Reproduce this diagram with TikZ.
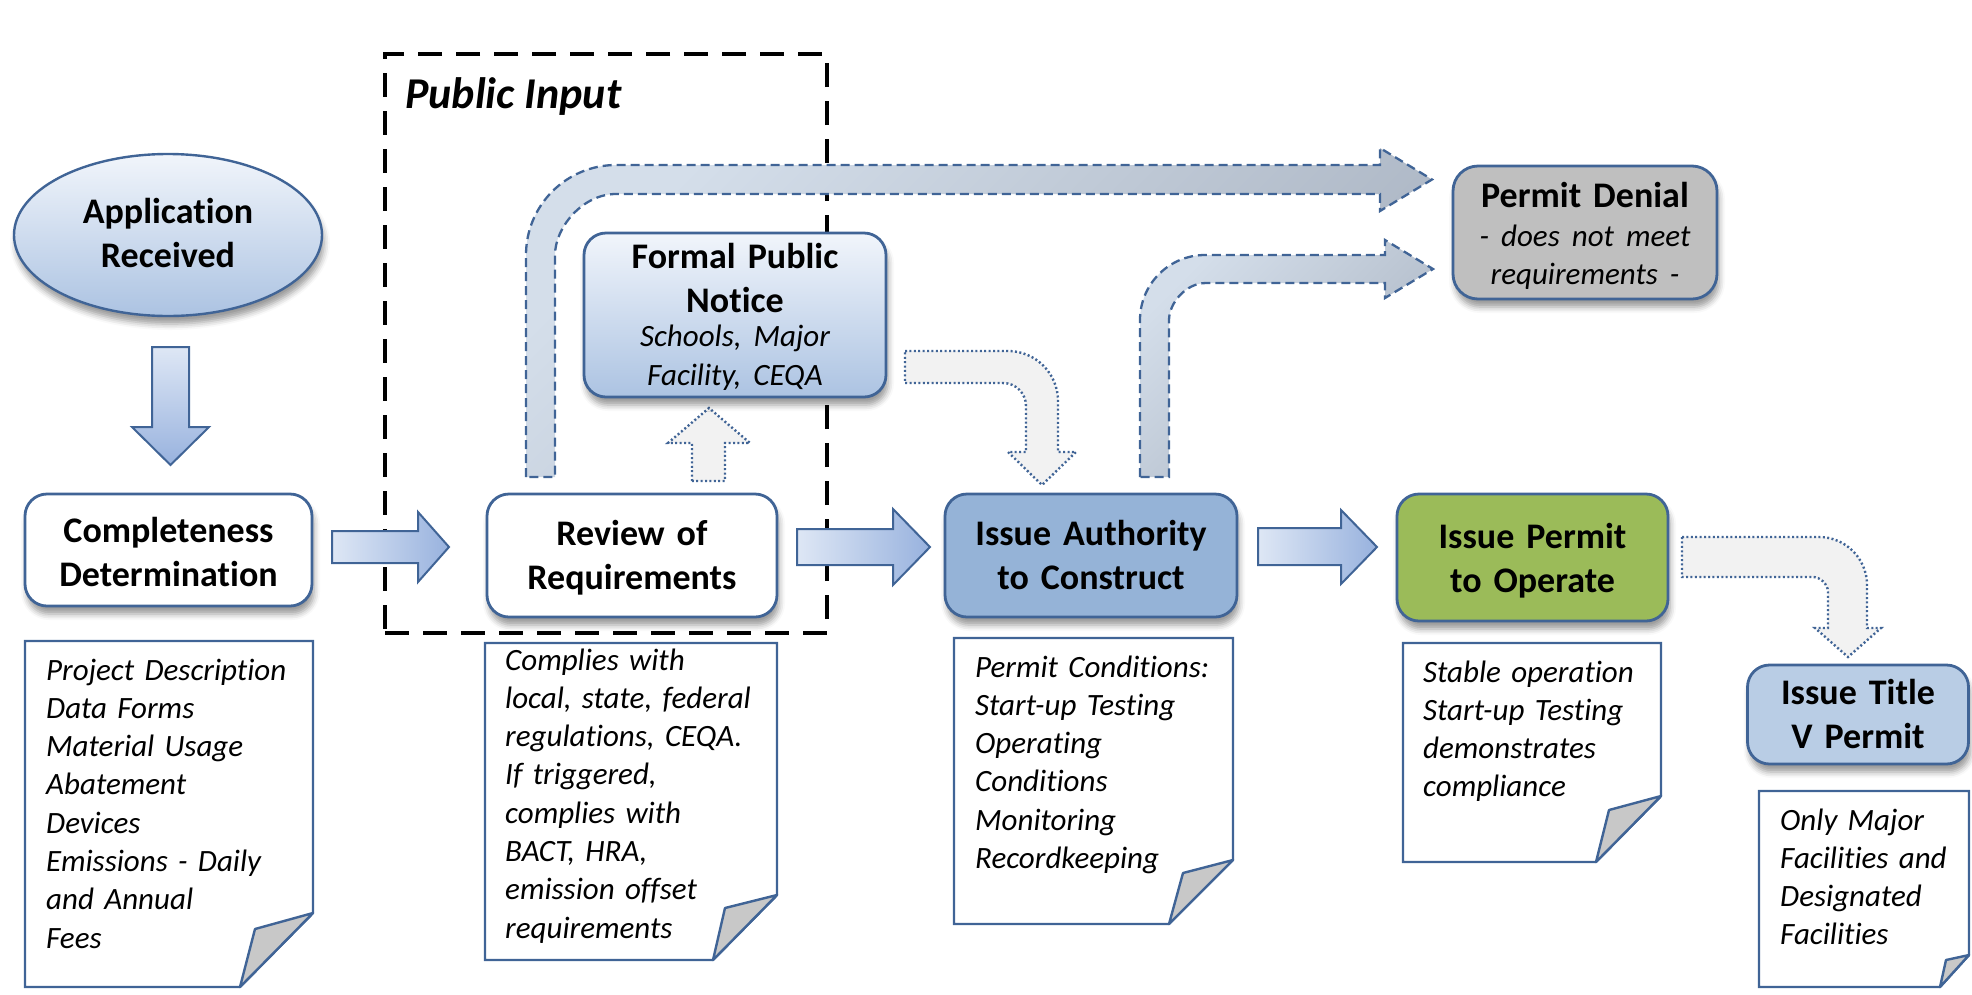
\documentclass[tikz,border=0pt]{standalone}
\usepackage{fontspec}
\setmainfont{Carlito}[Ligatures={NoCommon}]
\usetikzlibrary{shapes.geometric,shadows.blur}
\definecolor{bord}{RGB}{64,100,150}
\definecolor{arrL}{RGB}{222,231,245}
\definecolor{arrR}{RGB}{152,178,222}
\definecolor{dashL}{RGB}{212,222,234}
\definecolor{dashR}{RGB}{170,180,194}
\definecolor{dotfill}{RGB}{242,242,242}
\definecolor{foldg}{RGB}{200,200,200}
\definecolor{iacfill}{RGB}{149,179,215}
\definecolor{ipofill}{RGB}{155,187,89}
\definecolor{tvfill}{RGB}{185,205,229}
\definecolor{denfill}{RGB}{191,191,191}
\definecolor{ellT}{RGB}{241,245,251}
\definecolor{ellB}{RGB}{172,195,226}
\begin{document}
\begin{tikzpicture}[x=1pt,y=-1pt,
  shad/.style={blur shadow={shadow xshift=2pt, shadow yshift=-8pt, shadow blur radius=6pt}},
  boxshape/.style={draw=bord, line width=2.8pt, rounded corners=22pt, inner sep=0pt, shad},
  boxtext/.style={anchor=base, inner sep=0pt, text width=300pt, align=center, font=\bfseries\fontsize{36}{44.5}\selectfont},
  notepage/.style={draw=bord, line width=2.4pt, fill=white, line join=miter},
  notefold/.style={draw=bord, line width=2.4pt, fill=foldg, line join=round},
  notetext/.style={anchor=base west, inner sep=0pt, text width=290pt, align=left, font=\itshape\fontsize{31}{38.3}\selectfont},
  blockarrow/.style={draw=bord, line width=2pt, line join=miter},
  dotarrow/.style={draw=bord, line width=2.4pt, fill=dotfill, dash pattern=on 2pt off 2.4pt},
  dasharrow/.style={draw=bord, line width=2.3pt, dash pattern=on 9pt off 5pt, top color=dashL, bottom color=dashR, shading angle=45},
]
\useasboundingbox (0,0) rectangle (1972,994);

% Public input dashed region
\node[draw=black, line width=3.5pt, dash pattern=on 24pt off 14pt, minimum width=442pt, minimum height=579pt, inner sep=0pt] (pubbox) at (606,343.5) {};
\node[anchor=base west, inner sep=0pt, font=\bfseries\itshape\fontsize{44}{50}\selectfont] (pubtitle) at (405,108) {Public Input};

% big dashed arrows to Permit Denial
\path[dasharrow] (526,477) -- (526,255) .. controls (526,205.3) and (566.3,165) .. (616,165) -- (1380,165) -- (1380,148) -- (1432,179.5) -- (1380,211) -- (1380,194) -- (616,194) .. controls (582.3,194) and (555,227.7) .. (555,255) -- (555,477) -- cycle;
\path[dasharrow] (1140,477) -- (1140,320) .. controls (1140,284.1) and (1169.1,255) .. (1205,255) -- (1385,255) -- (1385,240) -- (1433,269) -- (1385,298) -- (1385,283) -- (1206,283) .. controls (1185.6,283) and (1169,303.4) .. (1169,320) -- (1169,477) -- cycle;

% dotted arrows
\path[dotarrow] (905,351) -- (1008,351) .. controls (1035.6,351) and (1058,373.4) .. (1058,401) -- (1058,452) -- (1076,452) -- (1042,485) -- (1008,452) -- (1026,452) -- (1026,406) .. controls (1026,393.3) and (1015.7,383) .. (1003,383) -- (905,383) -- cycle;
\path[dotarrow] (1682,537) -- (1819,537) .. controls (1845.5,537) and (1867,558.5) .. (1867,585) -- (1867,628) -- (1881,628) -- (1848,657) -- (1815,628) -- (1828,628) -- (1828,592) .. controls (1828,583.7) and (1819.7,577) .. (1813,577) -- (1682,577) -- cycle;
\path[dotarrow] (692,481) -- (692,443) -- (668,443) -- (709,408) -- (750,443) -- (725,443) -- (725,481) -- cycle;

% block arrows
\path[blockarrow, top color=arrL, bottom color=arrR] (152,347) -- (189,347) -- (189,427) -- (209,427) -- (170.5,465) -- (132,427) -- (152,427) -- cycle;
\path[blockarrow, left color=arrL, right color=arrR] (332,531) -- (418,531) -- (418,512) -- (449,547) -- (418,582) -- (418,563) -- (332,563) -- cycle;
\path[blockarrow, left color=arrL, right color=arrR] (797,529) -- (893,529) -- (893,509) -- (930,547) -- (893,585) -- (893,565) -- (797,565) -- cycle;
\path[blockarrow, left color=arrL, right color=arrR] (1258,528) -- (1341,528) -- (1341,510) -- (1377,547) -- (1341,584) -- (1341,565) -- (1258,565) -- cycle;

% Application received
\node[ellipse, draw=bord, line width=2.4pt, top color=ellT, bottom color=ellB, minimum width=308pt, minimum height=162pt, inner sep=0pt, shad] (app) at (168,235) {};
\node[boxtext] (appT) at (168,223) {Application\\Received};

% main boxes
\node[boxshape, fill=white, minimum width=287pt, minimum height=112pt] (comp) at (168.5,550) {};
\node[boxtext] (compT) at (168.5,542) {Completeness\\Determination};

\node[boxshape, fill=white, minimum width=290pt, minimum height=123pt] (rev) at (632,555.5) {};
\node[boxtext] (revT) at (632,545) {Review of\\Requirements};

\node[boxshape, top color=ellT, bottom color=ellB, minimum width=302pt, minimum height=164pt] (fpn) at (735,315) {};
\node[boxtext] (fpnT) at (735,268) {Formal Public\\Notice\\[-4pt] {\mdseries\itshape\fontsize{31}{38}\selectfont Schools, Major\\[-6pt] Facility, CEQA}};

\node[boxshape, fill=iacfill, minimum width=292pt, minimum height=123pt] (iac) at (1091,555.5) {};
\node[boxtext] (iacT) at (1091,545) {Issue Authority\\to Construct};

\node[boxshape, fill=ipofill, minimum width=271pt, minimum height=127pt] (ipo) at (1532.5,557.5) {};
\node[boxtext] (ipoT) at (1532.5,548) {Issue Permit\\to Operate};

\node[boxshape, fill=tvfill, minimum width=221pt, minimum height=99pt] (tv) at (1858,714.5) {};
\node[boxtext] (tvT) at (1858,704) {Issue Title\\V Permit};

\node[boxshape, fill=denfill, rounded corners=25pt, minimum width=264pt, minimum height=133pt] (den) at (1585,232.5) {};
\node[boxtext] (denT) at (1585,207) {Permit Denial\\[1pt] {\mdseries\itshape\fontsize{31}{38}\selectfont - does not meet\\[-6pt] requirements -}};

% notes
\path[notepage] (25,641) -- (313,641) -- (313,913) -- (240,987) -- (25,987) -- cycle;
\path[notefold] (313,913) -- (255,929) -- (240,987) -- cycle;
\node[notetext] (n1) at (46,680) {Project Description\\Data Forms\\Material Usage\\Abatement\\Devices\\Emissions - Daily\\and Annual\\Fees};

\path[notepage] (485,643) -- (777,643) -- (777,895) -- (713,960) -- (485,960) -- cycle;
\path[notefold] (777,895) -- (725,908) -- (713,960) -- cycle;
\node[notetext] (n2) at (505,670) {Complies with\\local, state, federal\\regulations, CEQA.\\If triggered,\\complies with\\BACT, HRA,\\emission offset\\requirements};

\path[notepage] (954,638) -- (1233,638) -- (1233,860) -- (1169,924) -- (954,924) -- cycle;
\path[notefold] (1233,860) -- (1183,873) -- (1169,924) -- cycle;
\node[notetext] (n3) at (975,677) {Permit Conditions:\\Start-up Testing\\Operating\\Conditions\\Monitoring\\Recordkeeping};

\path[notepage] (1403,643) -- (1661,643) -- (1661,796) -- (1596,862) -- (1403,862) -- cycle;
\path[notefold] (1661,796) -- (1609,810) -- (1596,862) -- cycle;
\node[notetext] (n4) at (1423,682) {Stable operation\\Start-up Testing\\demonstrates\\compliance};

\path[notepage] (1759,791) -- (1969,791) -- (1969,955) -- (1940,987) -- (1759,987) -- cycle;
\path[notefold] (1969,955) -- (1946,960) -- (1940,987) -- cycle;
\node[notetext] (n5) at (1780,830) {Only Major\\Facilities and\\Designated\\Facilities};
\end{tikzpicture}
\end{document}
